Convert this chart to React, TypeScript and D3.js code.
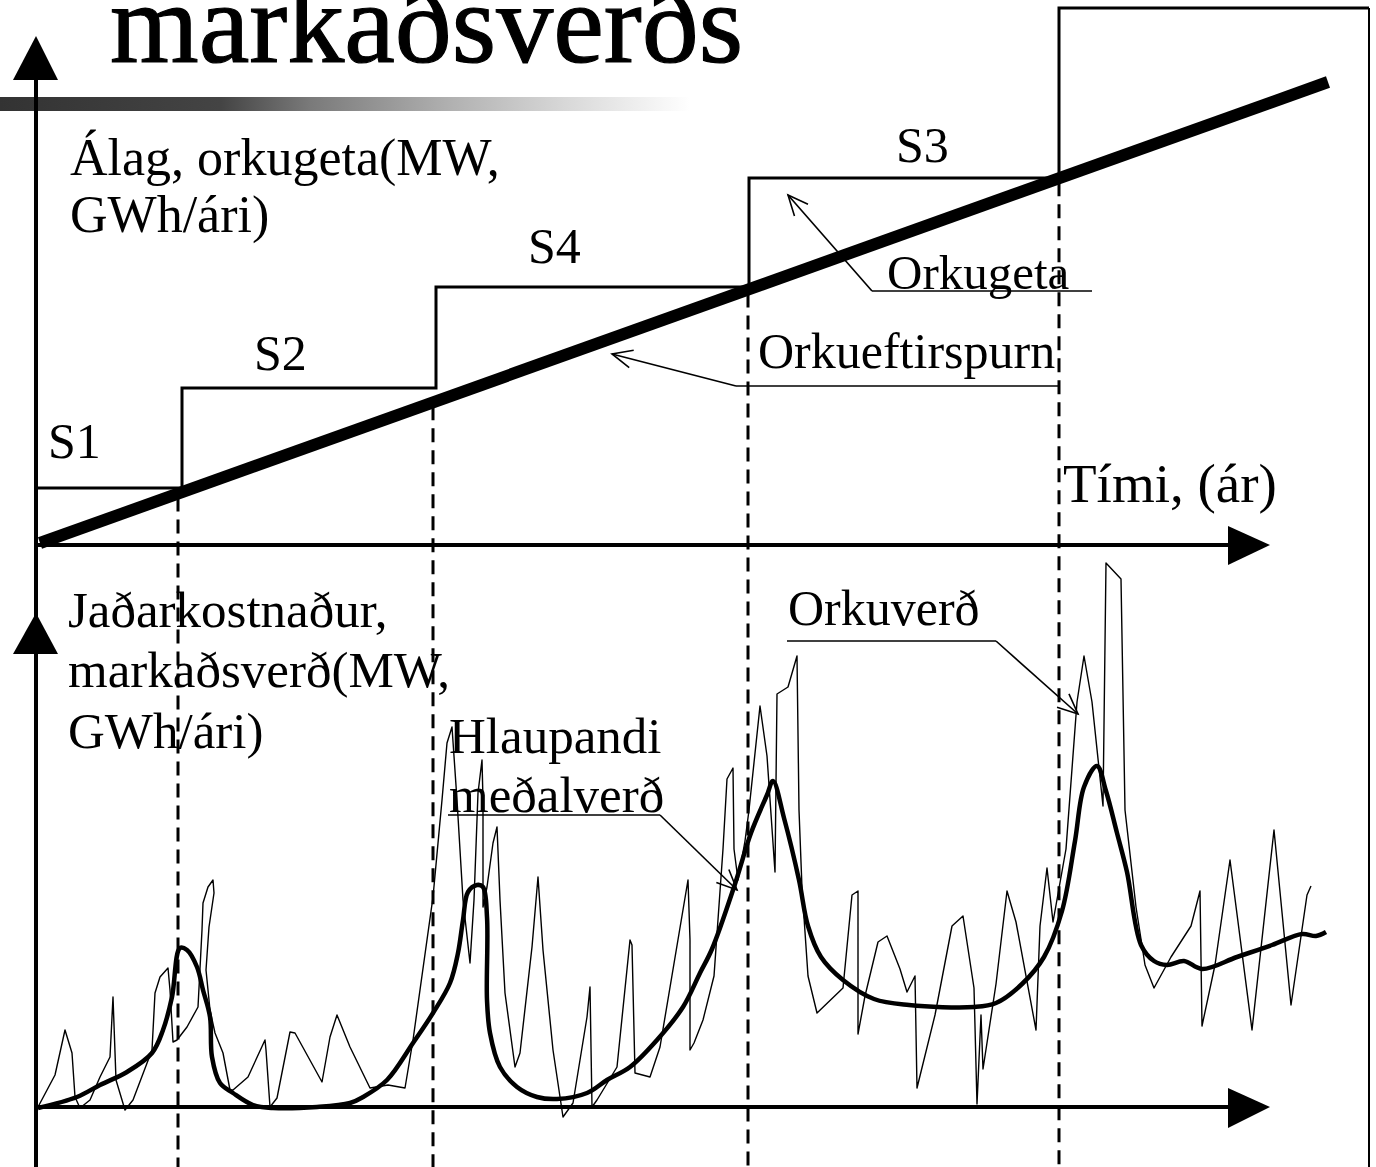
import React from "react"
import { scaleLinear, line, curveStepAfter, curveCatmullRom } from "d3"

// time axis (shared by both panels), arbitrary year units
const capStepTimes = [0, 14.6, 40.0, 71.3, 102.3, 133.3]
const capStepLevels = [11.4, 31.4, 51.6, 73.4, 107.4, 107.4]
const stepLabels = ["S1", "S2", "S4", "S3"]
const stepLabelPos = [[1.2, 17.4], [21.8, 35], [49.2, 56.4], [86, 76.6]]

const demandTimes = [0.4, 129.2]
const demandLevels = [0.4, 92.6]

const dashTimes = [14.2, 39.7, 71.2, 102.3]

// Orkuverð (thin, noisy price)
const priceTimes = [
  0.2, 1.9, 2.9, 3.6, 3.9, 4.4, 5.4, 6.4, 7.4, 7.7, 8.0, 8.9, 9.7, 11.6, 11.9, 12.4, 13.2, 13.4, 13.7, 14.1,
  15.1, 16.2, 16.6, 16.7, 17.2, 17.7, 17.8, 17.3, 17.0, 17.4, 17.9, 18.7, 19.4, 19.7, 21.2, 22.9, 23.0, 23.4,
  24.1, 25.4, 25.9, 28.6, 29.4, 30.1, 31.4, 33.4, 35.2, 36.9, 37.7, 39.7, 40.6, 41.1, 41.6, 42.1, 42.7, 43.4,
  43.8, 44.2, 44.6, 44.7, 44.7, 45.1, 45.7, 46.1, 46.4, 46.9, 47.9, 48.4, 49.6, 50.2, 50.7, 51.7, 52.7, 53.7,
  55.1, 55.4, 55.6, 56.1, 58.1, 59.4, 59.6, 59.9, 61.4, 62.4, 65.2, 65.4, 65.4, 65.8, 66.7, 67.8, 68.7, 69.1,
  69.7, 69.8, 70.2, 70.9, 71.3, 72.4, 73.1, 73.9, 74.1, 75.2, 76.1, 76.3, 76.6, 77.2, 78.1, 80.7, 81.6, 82.2,
  82.2, 82.9, 84.2, 85.1, 86.4, 87.1, 87.9, 88.1, 89.9, 91.6, 92.7, 93.8, 94.1, 94.5, 94.7, 96.0, 97.1, 98.0,
  100.0, 100.4, 101.1, 101.7, 103.0, 104.1, 104.8, 105.6, 106.7, 107.0, 108.5, 108.9, 110.0, 110.9, 111.8,
  113.5, 115.5, 116.4, 116.6, 117.9, 119.4, 121.6, 123.8, 125.5, 127.1, 127.5
]
const priceValues = [
  0, 6.4, 15.4, 10.8, 2, -0.2, 1.4, 6, 10, 22, 5.4, -0.6, 1.4, 11.4, 22.8, 26, 27.8, 23.4, 13, 13.4,
  16, 20, 35.4, 40.8, 44, 45.4, 42.8, 36, 27.4, 19.4, 14.8, 10.8, 3.4, 3.4, 6, 13.4, 11.4, 0,
  1.8, 15, 14.8, 5, 14, 18.4, 12, 3.8, 4.4, 3.8, 13.4, 42, 61.4, 72.8, 76, 61.4, 41.4, 28.8,
  41.4, 62.8, 69.4, 61.4, 40, 44, 52.8, 56, 41.4, 22.8, 8, 10.8, 32, 46, 31.4, 11.4, -2, 0.8,
  18, 24, 0, 1.4, 8, 33.4, 32.4, 6.8, 6, 12, 45.4, 33.4, 11.4, 12.8, 17.4, 26.2, 51.6, 65.6,
  67.8, 51.6, 45.4, 53.2, 59.4, 80.2, 70.2, 47, 82.6, 84, 90.2, 59.4, 43.8, 26.2, 18.8, 23.8, 42.4, 43.2,
  14.6, 22.2, 33, 34.2, 27.6, 23, 26.2, 3.8, 18.4, 36.2, 38.2, 23.8, 0.6, 18.4, 7.6, 24.6, 43.2, 37,
  15.4, 36.2, 47.8, 37, 51.6, 81, 90.2, 81, 60.2, 108.8, 105.6, 59.4, 40, 28.4, 23.8,
  30, 36.2, 43.2, 16.2, 28.4, 49.4, 15.4, 55.4, 20.4, 42.4, 44.2
]

// Hlaupandi meðalverð (thick running average)
const avgTimes = [
  0.2, 4.1, 6.4, 9.1, 11.6, 12.7, 13.6, 14.4, 15.1, 16.1, 16.7, 17.4, 17.6, 18.4, 19.7, 21.7, 23.7, 28.1,
  31.4, 32.7, 35.1, 37.7, 39.7, 41.4, 42.2, 42.7, 43.2, 44.1, 44.7, 45.1, 45.1, 45.4, 46.4, 48.1, 50.1, 52.1,
  55.1, 57.1, 59.4, 62.1, 64.7, 66.4, 67.6, 69.8, 71.5, 73.1, 73.7, 74.8, 76.3, 77.2, 78.5, 80.7, 83.8, 87.3,
  93.8, 96.0, 98.6, 100.8, 102.6, 103.9, 104.8, 106.1, 107.0, 108.1, 109.1, 110.5, 111.8, 113.1, 114.8, 116.6,
  120.1, 123.6, 126.6, 128.0, 129.0
]
const avgValues = [
  -0.2, 2, 4.4, 7, 10.8, 15.4, 22, 31.8, 31.4, 28, 23.4, 18, 10, 4.8, 2.8, 0.4, -0.2, 0,
  0.8, 2, 5.4, 12.8, 18.8, 24.8, 30.8, 37.4, 43, 44.4, 44, 38, 21.4, 14.8, 8, 4, 2, 1.6,
  2.8, 5.4, 8, 13.4, 20, 26.8, 31.6, 44, 54.8, 62.4, 65.2, 57.8, 45.4, 36.2, 30, 25.4, 21.6, 20.4,
  20, 20.8, 24.6, 30, 39.2, 53.2, 64, 68.2, 63.2, 54.8, 47, 32.4, 29.2, 28.4, 29.2, 27.6,
  30, 32.4, 34.6, 34.2, 35
]

const W = 1376
const H = 1167
const FONT = "'Liberation Serif', 'Times New Roman', serif"

function barbs(x1, y1, x2, y2, len = 22, ang = 0.42) {
  const a = Math.atan2(y1 - y2, x1 - x2)
  const b1 = [x2 + len * Math.cos(a + ang), y2 + len * Math.sin(a + ang)]
  const b2 = [x2 + len * Math.cos(a - ang), y2 + len * Math.sin(a - ang)]
  return `M${b1[0]},${b1[1]}L${x2},${y2}L${b2[0]},${b2[1]}`
}

function Leader({ x1, y1, x2, y2, ux }) {
  // underline from ux to x1 at y1, then leader to arrow tip (x2, y2)
  return (
    <g stroke="#000" strokeWidth={1.6} fill="none">
      <line x1={ux} y1={y1} x2={x1} y2={y1} />
      <line x1={x1} y1={y1} x2={x2} y2={y2} />
      <path d={barbs(x1, y1, x2, y2)} />
    </g>
  )
}

export default function App() {
  const x = scaleLinear().domain([0, 124]).range([36, 1276])
  const yTop = scaleLinear().domain([0, 100]).range([545, 45])
  const yBot = scaleLinear().domain([0, 100]).range([1107, 607])

  const x0 = x(0)
  const xTip = x(123.4)
  const axisEnd = x(119.2)
  const bottom = yBot(-12)

  const stepLine = line().curve(curveStepAfter)(
    capStepTimes.map((t, i) => [x(t), yTop(capStepLevels[i])])
  )
  const demand = demandTimes.map((t, i) => [x(t), yTop(demandLevels[i])])
  const priceLine = line()(priceTimes.map((t, i) => [x(t), yBot(priceValues[i])]))
  const avgLine = line().curve(curveCatmullRom.alpha(0.5))(
    avgTimes.map((t, i) => [x(t), yBot(avgValues[i])])
  )
  const demandAt = t =>
    demandLevels[0] + ((t - demandTimes[0]) / (demandTimes[1] - demandTimes[0])) * (demandLevels[1] - demandLevels[0])

  const upTip = yTop(101.8)
  const lowTip = yBot(98.8)
  const txt = { fontFamily: FONT, fontSize: 52, fill: "#000" }

  return (
    <div style={{ position: "absolute", left: 0, top: 0 }}>
      <svg width={W} height={H} style={{ display: "block", background: "#fff" }}>
        <defs>
          <linearGradient id="bar" x1="0" x2="1" y1="0" y2="0">
            <stop offset="0" stopColor="#333" />
            <stop offset="0.32" stopColor="#444" />
            <stop offset="0.45" stopColor="#7a7a7a" />
            <stop offset="0.65" stopColor="#b0b0b0" />
            <stop offset="0.82" stopColor="#d8d8d8" />
            <stop offset="1" stopColor="#ffffff" />
          </linearGradient>
        </defs>
        <rect x={0} y={97} width={690} height={14} fill="url(#bar)" />
        <text x={110} y={62} style={{ ...txt, fontSize: 114 }} stroke="#000" strokeWidth={1.2}>markaðsverðs</text>

        {/* upper panel */}
        <path d={stepLine} fill="none" stroke="#000" strokeWidth={3} />
        <line x1={x(133.3)} y1={yTop(107.4)} x2={x(133.3)} y2={H} stroke="#000" strokeWidth={2} />
        {dashTimes.map((t, i) => (
          <line key={i} x1={x(t)} y1={yTop(demandAt(t)) + 4} x2={x(t)} y2={bottom}
            stroke="#000" strokeWidth={3} strokeDasharray="14,8" />
        ))}
        <line x1={demand[0][0]} y1={demand[0][1]} x2={demand[1][0]} y2={demand[1][1]}
          stroke="#000" strokeWidth={12} />

        {/* axes */}
        <g stroke="#000" strokeWidth={4}>
          <line x1={x0} y1={upTip + 20} x2={x0} y2={bottom} />
          <line x1={x0} y1={yTop(0)} x2={axisEnd} y2={yTop(0)} />
          <line x1={x0} y1={yBot(0)} x2={axisEnd} y2={yBot(0)} />
        </g>
        <g fill="#000">
          <path d={`M${x0},${upTip}L${x0 - 23},${upTip + 44}L${x0 + 22},${upTip + 44}Z`} />
          <path d={`M${x0},${lowTip}L${x0 - 23},${lowTip + 41}L${x0 + 22},${lowTip + 41}Z`} />
          <path d={`M${xTip},${yTop(0)}L${xTip - 42},${yTop(0) - 19}L${xTip - 42},${yTop(0) + 20}Z`} />
          <path d={`M${xTip},${yBot(0)}L${xTip - 42},${yBot(0) - 19}L${xTip - 42},${yBot(0) + 21}Z`} />
        </g>

        {/* lower panel series */}
        <path d={priceLine} fill="none" stroke="#000" strokeWidth={1.4} strokeLinejoin="round" />
        <path d={avgLine} fill="none" stroke="#000" strokeWidth={4.5} strokeLinejoin="round" />

        {/* labels upper */}
        <text x={x(3.4)} y={yTop(74)} style={txt}>Álag, orkugeta(MW,</text>
        <text x={x(3.4)} y={yTop(62.6)} style={txt}>GWh/ári)</text>
        {stepLabels.map((s, i) => (
          <text key={s} x={x(stepLabelPos[i][0])} y={yTop(stepLabelPos[i][1])} style={{ ...txt, fontSize: 50 }}>{s}</text>
        ))}
        <text x={x(85.1)} y={yTop(51.2)} style={{ ...txt, fontSize: 49 }}>Orkugeta</text>
        <Leader ux={x(105.6)} x1={x(83.6)} y1={yTop(50.8)} x2={x(75.2)} y2={yTop(70)} />
        <text x={x(72.2)} y={yTop(35.4)} style={{ ...txt, fontSize: 50 }}>Orkueftirspurn</text>
        <Leader ux={x(102.3)} x1={x(70)} y1={yTop(31.8)} x2={x(57.6)} y2={yTop(38.2)} />
        <text x={x(102.7)} y={yTop(8.6)} style={{ ...txt, fontSize: 55 }}>Tími, (ár)</text>

        {/* labels lower */}
        <text x={x(3.2)} y={yBot(96)} style={{ ...txt, fontSize: 51 }}>Jaðarkostnaður,</text>
        <text x={x(3.2)} y={yBot(84)} style={{ ...txt, fontSize: 51 }}>markaðsverð(MW,</text>
        <text x={x(3.2)} y={yBot(71.8)} style={{ ...txt, fontSize: 51 }}>GWh/ári)</text>
        <text x={x(41.3)} y={yBot(70.8)} style={{ ...txt, fontSize: 51 }}>Hlaupandi</text>
        <text x={x(41.3)} y={yBot(59)} style={{ ...txt, fontSize: 51 }}>meðalverð</text>
        <Leader ux={x(41.2)} x1={x(62.4)} y1={yBot(58.4)} x2={x(70.1)} y2={yBot(43.4)} />
        <text x={x(75.2)} y={yBot(96.4)} style={{ ...txt, fontSize: 50 }}>Orkuverð</text>
        <Leader ux={x(75.1)} x1={x(96)} y1={yBot(93.2)} x2={x(104.2)} y2={yBot(78.6)} />
      </svg>
    </div>
  )
}
